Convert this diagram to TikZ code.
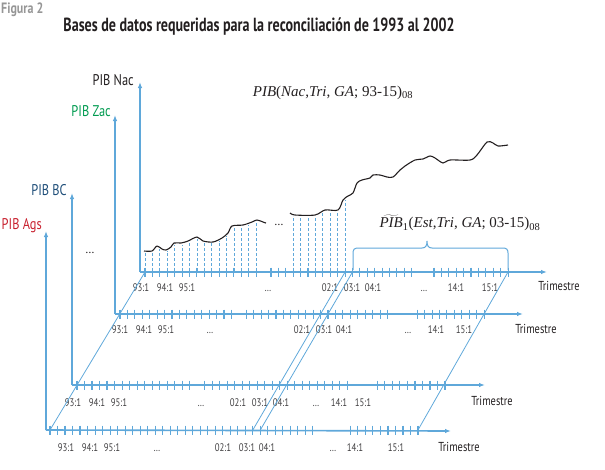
\documentclass[tikz,border=0pt]{standalone}
\usepackage{fontspec}
\setmainfont{PT Sans}
\newfontfamily\condfont[FakeStretch=0.8]{PT Sans}
\newfontfamily\titlefont[FakeStretch=0.74]{PT Sans}
\newfontfamily\formfont{Liberation Serif}
\usetikzlibrary{arrows.meta}

\definecolor{axisblue}{RGB}{95,168,218}
\definecolor{labgray}{RGB}{65,64,66}
\definecolor{figgray}{RGB}{150,150,150}
\definecolor{nacblack}{RGB}{35,31,32}
\definecolor{zacgreen}{RGB}{0,155,80}
\definecolor{bcblue}{RGB}{31,78,121}
\definecolor{agsred}{RGB}{200,32,46}

\begin{document}
\begin{tikzpicture}[
    x=1pt, y=-1pt,
    axis/.style={draw=axisblue, line width=1.6pt, -{Latex[length=6pt,width=4.5pt]}},
    tick/.style={draw=axisblue, line width=1.1pt},
    slant/.style={draw=axisblue, line width=0.8pt},
    guide/.style={draw=axisblue, line width=0.7pt, dash pattern=on 3pt off 2pt},
    serie/.style={draw=nacblack, line width=1.1pt, line join=round},
    brace/.style={draw=axisblue, line width=1pt},
    ticklab/.style={font=\condfont\fontsize{11}{11}\selectfont, text=labgray, inner sep=0pt, anchor=base},
    axlab/.style={font=\condfont\fontsize{15.5}{15.5}\selectfont, inner sep=0pt, anchor=east},
    timelab/.style={font=\condfont\fontsize{13}{13}\selectfont, text=nacblack, inner sep=0pt},
    formula/.style={font=\formfont\fontsize{15}{15}\selectfont, text=nacblack, inner sep=0pt}
]
\useasboundingbox (0,0) rectangle (605,469);

% Title
\node[font=\condfont\bfseries\fontsize{15}{15}\selectfont, text=figgray, inner sep=0pt, anchor=west] (fig) at (1,10) {Figura 2};
\node[font=\titlefont\bfseries\fontsize{19}{19}\selectfont, text=nacblack] (title) at (259,27)
    {Bases de datos requeridas para la reconciliación de 1993 al 2002};

% PIB Nac (back)
\coordinate (nacO) at (140,272);
\coordinate (nacY) at (140,82);
\coordinate (nacX) at (547,272);
\draw[axis] (nacO) -- (nacY);
\draw[axis] (nacO) -- (nacX);
\node[axlab, text=nacblack] (nacT) at (134,80) {PIB Nac};
\node[timelab] (nacTri) at (559,286) {Trimestre};
\foreach \k in {0,1,...,15,17,18,...,36,39,40,...,49}
    \draw[tick] (145+7.41*\k,267.5) -- ++(0,9);
\foreach \t/\x [count=\i] in {93:1/141, 94:1/165, 95:1/187, \dots/268, 02:1/330, 03:1/352, 04:1/373, \dots/424, 14:1/456, 15:1/490}
    \node[ticklab] (nac\i) at (\x,291) {\t};

% PIB Zac
\coordinate (zacO) at (115,314);
\coordinate (zacY) at (115,115);
\coordinate (zacX) at (523,314);
\draw[axis] (zacO) -- (zacY);
\draw[axis] (zacO) -- (zacX);
\node[axlab, text=zacgreen] (zacT) at (111,111) {PIB Zac};
\node[timelab] (zacTri) at (536,329) {Trimestre};
\foreach \k in {0,1,...,15,17,18,...,36,40,41,...,49}
    \draw[tick] (120+7.43*\k,309.5) -- ++(0,9);
\foreach \t/\x [count=\i] in {93:1/120, 94:1/144, 95:1/166, \dots/210, 02:1/302, 03:1/324, 04:1/344, \dots/408, 14:1/436, 15:1/464}
    \node[ticklab] (zac\i) at (\x,333) {\t};

% PIB BC
\coordinate (bcO) at (72,385);
\coordinate (bcY) at (72,193);
\coordinate (bcX) at (485,385);
\draw[axis] (bcO) -- (bcY);
\draw[axis] (bcO) -- (bcX);
\node[axlab, text=bcblue] (bcT) at (67,190) {PIB BC};
\node[timelab] (bcTri) at (492,401) {Trimestre};
\foreach \k in {0,1,...,15,17,18,...,36,40,41,...,49}
    \draw[tick] (77+7.51*\k,380.5) -- ++(0,9);
\foreach \t/\x [count=\i] in {93:1/73, 94:1/97, 95:1/119, \dots/201, 02:1/238, 03:1/260, 04:1/281, \dots/316, 14:1/339, 15:1/363}
    \node[ticklab] (bc\i) at (\x,406) {\t};

% PIB Ags (front)
\coordinate (agsO) at (46,430);
\coordinate (agsY) at (46,231);
\coordinate (agsX) at (451,431);
\draw[axis] (agsO) -- (agsY);
\draw[axis] (agsO) -- (agsX);
\node[axlab, text=agsred] (agsT) at (42,226) {PIB Ags};
\node[timelab] (agsTri) at (459,447) {Trimestre};
\foreach \k in {0,1,...,35,40,41,...,49}
    \draw[tick] (50+7.51*\k,425.5) -- ++(0,9);
\foreach \t/\x [count=\i] in {93:1/66, 94:1/90, 95:1/112, \dots/157, 02:1/223, 03:1/247, 04:1/267, \dots/333, 14:1/355, 15:1/396}
    \node[ticklab] (ags\i) at (\x,451) {\t};

% slanted links between the layers
\coordinate (agsA) at (50,430);       \coordinate (nacA) at (145,272);
\coordinate (agsB) at (252.8,430);    \coordinate (nacB) at (345.1,272);
\coordinate (agsC) at (260.3,430);    \coordinate (nacC) at (352.5,272);
\coordinate (agsD) at (418,430);      \coordinate (nacD) at (508,272);
\draw[slant] (agsA) -- (nacA);
\draw[slant] (agsB) -- (nacB);
\draw[slant] (agsC) -- (nacC);
\draw[slant] (agsD) -- (nacD);

% dashed guides under the series
\foreach \k/\yt in {0/251, 1/251, 2/248, 3/249.5, 4/243.5, 5/243.5, 6/241, 7/237.5, 8/241.5, 9/242, 10/239.5, 11/234.5, 12/226.5, 13/225.5, 14/223.5, 15/221,
                    20/215, 21/216, 22/216, 23/215.5, 24/212, 25/210.5, 26/210.5, 27/199}
    \draw[guide] (145+7.41*\k,271) -- (145+7.41*\k,\yt+1);

% series
\draw[serie] plot[smooth, tension=0.5] coordinates {(144,251) (152,251) (157,246) (162,249) (166,250) (171,247) (174,243) (181,243) (188,241) (197,237) (203,241) (213,242) (222,238) (228,233) (232,226) (243,225) (252,222) (257,220) (263,222) (266,223)};
\draw[serie] plot[smooth, tension=0.5] coordinates {(290,213) (295,215) (315,215) (325,210) (338,210) (343,200) (348,196) (353,193) (357,183) (362,180) (370,178) (373,175) (380,175) (387,177) (393,177) (400,170) (405,166) (415,160) (423,159) (430,156) (435,158) (443,163) (450,160) (470,160) (477,155) (487,142) (493,143) (498,146) (508,145)};
\node[font=\fontsize{12}{12}\selectfont, text=nacblack] (gapA) at (279,225) {\dots};
\node[font=\fontsize{12}{12}\selectfont, text=nacblack] (gapB) at (90,253) {\dots};

% brace over 03-15
\coordinate (brL) at (353,270);
\coordinate (brR) at (508,270);
\draw[brace] (brL) -- (353,253) .. controls (353,249.5) and (354.5,248) .. (358,248) -- (422,248)
    .. controls (425.5,248) and (427,246) .. (427,241) .. controls (427,246) and (428.5,248) .. (432,248)
    -- (503,248) .. controls (506.5,248) and (508,249.5) .. (508,253) -- (brR);

% formulas
\node[formula] (fNac) at (333,93) {\textit{PIB}(\textit{Nac},\textit{Tri}, \textit{GA}; 93-15)\textsubscript{08}};
\node[formula] (fEst) at (460,223) {$\widetilde{\mbox{\textit{PIB}}}$\textsubscript{1}(\textit{Est},\textit{Tri}, \textit{GA}; 03-15)\textsubscript{08}};

\end{tikzpicture}
\end{document}
